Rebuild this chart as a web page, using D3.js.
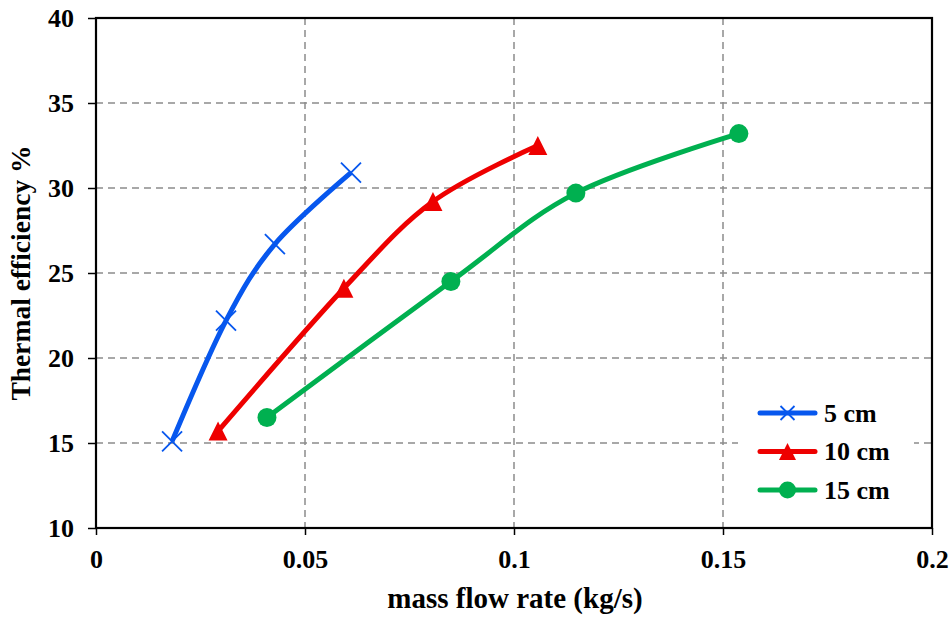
<!DOCTYPE html>
<html>
<head>
<meta charset="utf-8">
<script src="https://cdn.jsdelivr.net/npm/d3@7"></script>
<style>
  html, body { margin: 0; padding: 0; background: #fff; }
  svg { display: block; }
  text { font-family: "Times New Roman", "Liberation Serif", serif; font-weight: bold; fill: #000; }
</style>
</head>
<body>
<svg id="chart" width="952" height="622"></svg>
<script>
// ---- data ----
const seriesNames = ["5 cm", "10 cm", "15 cm"];
const flow5  = [0.0182, 0.0311, 0.0428, 0.0610];
const eff5   = [15.1, 22.2, 26.7, 30.9];
const flow10 = [0.0292, 0.0593, 0.0806, 0.1057];
const eff10  = [15.7, 24.1, 29.2, 32.5];
const flow15 = [0.0409, 0.0849, 0.1148, 0.1538];
const eff15  = [16.5, 24.5, 29.7, 33.2];
const xTicks = [0, 0.05, 0.1, 0.15, 0.2];
const xTickLabels = ["0", "0.05", "0.1", "0.15", "0.2"];
const yTicks = [10, 15, 20, 25, 30, 35, 40];
const xTitle = "mass flow rate (kg/s)";
const yTitle = "Thermal efficiency %";

// ---- styles ----
const colors = ["#0757EE", "#EE0000", "#00B050"];
const markers = ["cross", "triangle", "circle"];
const FONT = "'Times New Roman', 'Liberation Serif', serif";

const series = [
  { name: seriesNames[0], xs: flow5, ys: eff5 },
  { name: seriesNames[1], xs: flow10, ys: eff10 },
  { name: seriesNames[2], xs: flow15, ys: eff15 }
].map((s, i) => ({ ...s, color: colors[i], marker: markers[i],
  pts: s.xs.map((x, j) => ({ x, y: s.ys[j] })) }));

const svg = d3.select("#chart");
const L = 96, R = 932, T = 18, B = 528;
const x = d3.scaleLinear().domain([0, 0.2]).range([L, R]);
const y = d3.scaleLinear().domain([10, 40]).range([B, T]);

// gridlines
const grid = svg.append("g").attr("stroke", "#8c8c8c").attr("stroke-width", 1.5)
  .attr("stroke-dasharray", "7,5");
grid.selectAll("line.h").data(yTicks.filter(v => v > 10 && v < 40)).enter().append("line")
  .attr("x1", L).attr("x2", R).attr("y1", d => y(d)).attr("y2", d => y(d));
grid.selectAll("line.v").data(xTicks.filter(v => v > 0 && v < 0.2)).enter().append("line")
  .attr("class", "v")
  .attr("y1", T).attr("y2", B).attr("x1", d => x(d)).attr("x2", d => x(d));

// axes
const yAxis = d3.axisLeft(y).tickValues(yTicks).tickSize(8).tickPadding(14);
const xAxis = d3.axisBottom(x).tickValues(xTicks).tickSize(7).tickPadding(15)
  .tickFormat((d, i) => xTickLabels[i]);

const gy = svg.append("g").attr("transform", `translate(${L},0)`).call(yAxis);
const gx = svg.append("g").attr("transform", `translate(0,${B})`).call(xAxis);
[gy, gx].forEach(g => {
  g.attr("font-family", null).attr("font-size", null);
  g.select(".domain").remove();
  g.selectAll(".tick line").attr("stroke", "#000").attr("stroke-width", 1.5);
  g.selectAll(".tick text").style("font-size", "26px").style("font-family", FONT)
    .style("font-weight", "bold").attr("fill", "#000");
});
gy.selectAll(".tick text").attr("dy", "0.34em");

// frame
svg.append("rect").attr("x", L).attr("y", T).attr("width", R - L).attr("height", B - T)
  .attr("fill", "none").attr("stroke", "#000").attr("stroke-width", 2.2);

// lines
const line = d3.line().x(d => x(d.x)).y(d => y(d.y)).curve(d3.curveCardinal.tension(0));
const lg = svg.append("g");
series.forEach(s => {
  lg.append("path").datum(s.pts).attr("d", line)
    .attr("fill", "none").attr("stroke", s.color).attr("stroke-width", 5)
    .attr("stroke-linejoin", "round").attr("stroke-linecap", "butt");
});

function drawMarker(g, type, color, cx, cy, sz) {
  if (type === "cross") {
    const h = sz / 2;
    g.append("path").attr("d", `M${cx - h},${cy - h}L${cx + h},${cy + h}M${cx - h},${cy + h}L${cx + h},${cy - h}`)
      .attr("stroke", color).attr("stroke-width", 1.8).attr("fill", "none");
  } else if (type === "triangle") {
    const h = sz / 2;
    g.append("path").attr("d", `M${cx},${cy - h}L${cx + h},${cy + h}L${cx - h},${cy + h}Z`)
      .attr("fill", color);
  } else {
    g.append("circle").attr("cx", cx).attr("cy", cy).attr("r", sz / 2).attr("fill", color);
  }
}

const mg = svg.append("g");
series.forEach(s => {
  s.pts.forEach(p => drawMarker(mg, s.marker, s.color, x(p.x), y(p.y), s.marker === "cross" ? 20 : 19));
});

// legend
const leg = svg.append("g");
leg.append("rect").attr("x", 738).attr("y", 396).attr("width", 176).attr("height", 112).attr("fill", "#fff");
series.forEach((s, i) => {
  const ly = 413 + i * 38.5;
  leg.append("line").attr("x1", 760).attr("x2", 815).attr("y1", ly).attr("y2", ly)
    .attr("stroke", s.color).attr("stroke-width", 5).attr("stroke-linecap", "round");
  drawMarker(leg, s.marker, s.color, 787.5, ly, s.marker === "cross" ? 14 : 17);
  leg.append("text").attr("x", 824).attr("y", ly).attr("dy", "0.34em")
    .style("font-size", "26px").text(s.name);
});

// titles
svg.append("text").attr("x", (L + R) / 2 + 1).attr("y", 608).attr("text-anchor", "middle")
  .style("font-size", "29px").text(xTitle);
svg.append("text").attr("transform", `translate(30,${(T + B) / 2}) rotate(-90)`)
  .attr("text-anchor", "middle").style("font-size", "27.5px").text(yTitle);
</script>
</body>
</html>
